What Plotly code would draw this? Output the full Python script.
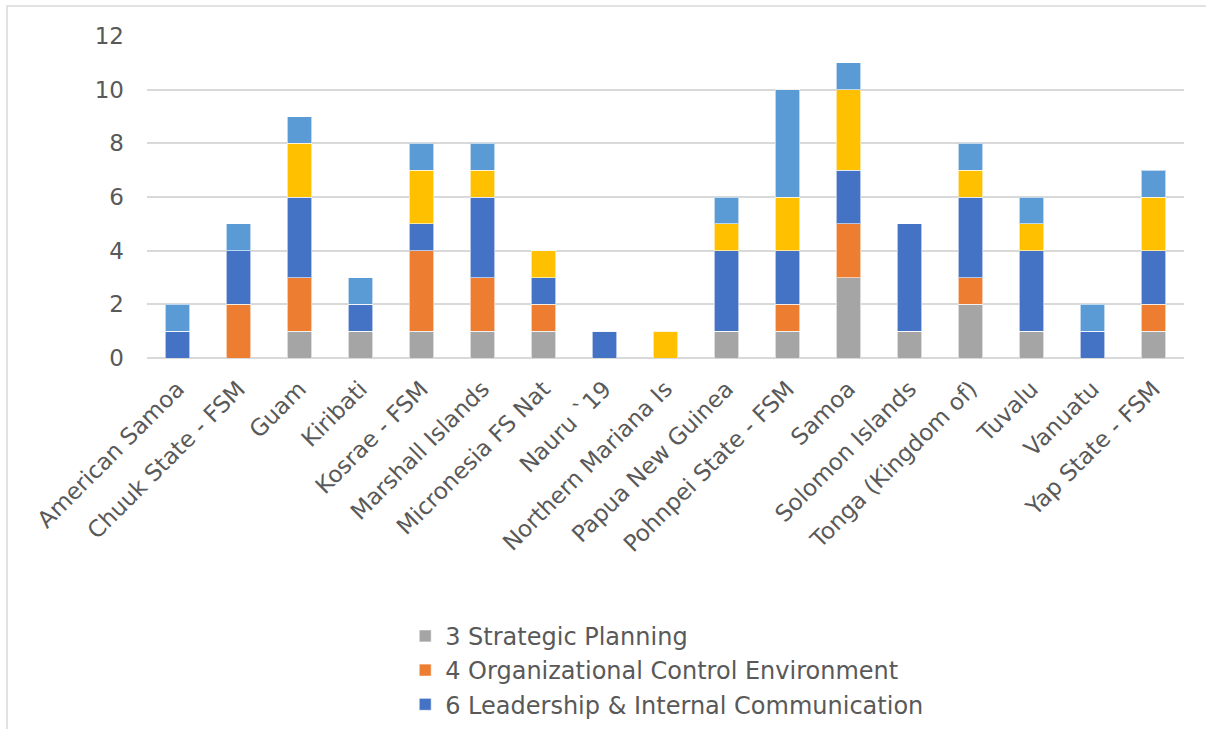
import plotly.graph_objects as go

# Categories (jurisdictions) along the x axis
categories = [
    "American Samoa", "Chuuk State - FSM", "Guam", "Kiribati", "Kosrae - FSM",
    "Marshall Islands", "Micronesia FS Nat", "Nauru `19", "Northern Mariana Is",
    "Papua New Guinea", "Pohnpei State - FSM", "Samoa", "Solomon Islands",
    "Tonga (Kingdom of)", "Tuvalu", "Vanuatu", "Yap State - FSM",
]

# Stacked series, bottom to top
strategic_planning = [0, 0, 1, 1, 1, 1, 1, 0, 0, 1, 1, 3, 1, 2, 1, 0, 1]
org_control_env = [0, 2, 2, 0, 3, 2, 1, 0, 0, 0, 1, 2, 0, 1, 0, 0, 1]
leadership_comm = [1, 2, 3, 1, 1, 3, 1, 1, 0, 3, 2, 2, 4, 3, 3, 1, 2]
series_7 = [0, 0, 2, 0, 2, 1, 1, 0, 1, 1, 2, 3, 0, 1, 1, 0, 2]
series_8 = [1, 1, 1, 1, 1, 1, 0, 0, 0, 1, 4, 1, 0, 1, 1, 1, 1]

series = [
    ("3 Strategic Planning", strategic_planning, "#A5A5A5", True),
    ("4 Organizational Control Environment", org_control_env, "#ED7D31", True),
    ("6 Leadership & Internal Communication", leadership_comm, "#4472C4", True),
    ("7", series_7, "#FFC000", False),
    ("8", series_8, "#5B9BD5", False),
]

fig = go.Figure()
for name, vals, color, show in series:
    fig.add_trace(go.Bar(
        x=categories, y=vals, name=name, showlegend=show, legendgroup=name,
        marker=dict(color=color, line=dict(color="rgba(255,255,255,0.6)", width=1)),
        width=0.4,
    ))

font_family = "DejaVu Sans, Verdana, sans-serif"
text_color = "#595959"
grid_color = "#D9D9D9"
plot_w = 1206 - 147 - 22

fig.update_layout(
    barmode="stack",
    width=1206, height=729,
    margin=dict(l=147, r=22, t=36, b=371, autoexpand=False),
    paper_bgcolor="white", plot_bgcolor="white",
    font=dict(family=font_family, color=text_color, size=23),
    xaxis=dict(
        tickangle=-45, tickfont=dict(size=23, color=text_color),
        showgrid=False, showline=False, ticks="", ticklabelstandoff=12,
        automargin=False,
    ),
    yaxis=dict(
        range=[0, 12], dtick=2, tickfont=dict(size=23, color=text_color),
        showgrid=True, gridcolor=grid_color, gridwidth=1.5,
        zeroline=True, zerolinecolor=grid_color, zerolinewidth=1.5,
        showline=False, ticks="", ticklabelstandoff=22, automargin=False,
    ),
    legend=dict(
        orientation="v", x=0.249, xanchor="left",
        yref="container", y=0.158, yanchor="top",
        font=dict(size=24, color=text_color), traceorder="normal",
        itemwidth=30, tracegroupgap=0,
    ),
    hovermode=False,
    shapes=[dict(
        type="rect", xref="paper", yref="paper",
        x0=(7 - 147) / plot_w, x1=1.2, y0=-1.3, y1=(358 - 6) / 322,
        line=dict(color=grid_color, width=1.5), fillcolor="rgba(0,0,0,0)",
        layer="below",
    )],
)

fig.write_html("out.html")
